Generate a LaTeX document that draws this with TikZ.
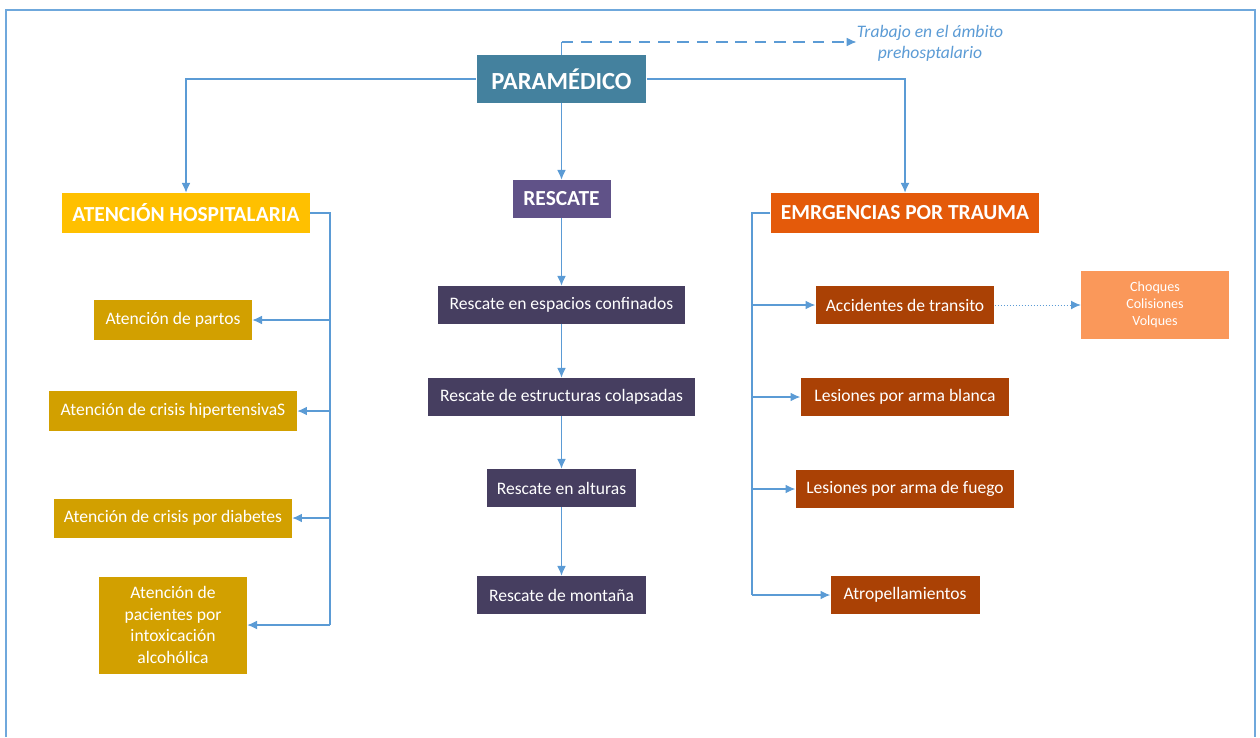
\documentclass[tikz,border=0pt]{standalone}
\usepackage{fontspec}
\setmainfont{Carlito}
\usepackage{tikz}
\usetikzlibrary{arrows.meta}

\definecolor{paraC}{RGB}{68,129,158}
\definecolor{hospC}{RGB}{255,192,0}
\definecolor{rescC}{RGB}{96,82,136}
\definecolor{trauC}{RGB}{228,90,10}
\definecolor{hospSub}{RGB}{210,160,0}
\definecolor{rescSub}{RGB}{70,62,96}
\definecolor{trauSub}{RGB}{170,65,5}
\definecolor{choqC}{RGB}{250,152,90}
\definecolor{lineC}{RGB}{91,155,213}
\definecolor{frameC}{RGB}{111,168,220}

\tikzset{
    box/.style={rectangle, text=white, inner sep=0pt, align=center},
    head/.style={box, font=\bfseries\fontsize{12.2}{14}\selectfont},
    sub/.style={box, font=\fontsize{10}{12.2}\selectfont},
    conn/.style={draw=lineC, line width=0.6pt},
    >={Latex[length=5.5pt,width=5pt]}}

\begin{document}
\begin{tikzpicture}[x=0.02cm, y=-0.02cm]
    \useasboundingbox (0,0) rectangle (1260,737);
    \draw[frameC, line width=0.9pt] (6,737) -- (6,10) -- (1255,10) -- (1255,737);

    % main nodes
    \node[box, fill=paraC, minimum width=3.4cm, minimum height=0.96cm, font=\bfseries\fontsize{14}{16}\selectfont] (para) at (561.5,79) {PARAMÉDICO};
    \node[head, fill=hospC, minimum width=4.96cm, minimum height=0.8cm] (hosp) at (186,213) {ATENCIÓN HOSPITALARIA};
    \node[head, fill=rescC, minimum width=1.96cm, minimum height=0.76cm] (resc) at (561.5,199) {RESCATE};
    \node[head, fill=trauC, minimum width=5.38cm, minimum height=0.8cm] (trau) at (905,213) {EMRGENCIAS POR TRAUMA};
    \node[box, text=lineC, font=\itshape\fontsize{10}{12}\selectfont] (note) at (930,43) {Trabajo en el ámbito\\prehosptalario};
    \coordinate (dtop) at (561.5,42);

    % atencion hospitalaria
    \node[sub, fill=hospSub, minimum width=3.16cm, minimum height=0.8cm] (h1) at (173,320) {Atención de partos};
    \node[sub, fill=hospSub, minimum width=4.96cm, minimum height=0.8cm] (h2) at (173,411) {Atención de crisis hipertensivaS};
    \node[sub, fill=hospSub, minimum width=4.76cm, minimum height=0.78cm] (h3) at (173,518) {Atención de crisis por diabetes};
    \node[sub, fill=hospSub, minimum width=2.96cm, minimum height=1.94cm] (h4) at (173,625) {Atención de\\pacientes por\\intoxicación\\alcohólica};
    \coordinate (hbot) at (330,625);

    % rescate
    \node[sub, fill=rescSub, minimum width=4.96cm, minimum height=0.76cm] (r1) at (561.5,305) {Rescate en espacios confinados};
    \node[sub, fill=rescSub, minimum width=5.36cm, minimum height=0.76cm] (r2) at (561.5,397) {Rescate de estructuras colapsadas};
    \node[sub, fill=rescSub, minimum width=2.98cm, minimum height=0.76cm] (r3) at (561.5,488) {Rescate en alturas};
    \node[sub, fill=rescSub, minimum width=3.38cm, minimum height=0.76cm] (r4) at (561.5,595) {Rescate de montaña};

    % trauma
    \node[sub, fill=trauSub, minimum width=3.58cm, minimum height=0.76cm] (t1) at (905,305) {Accidentes de transito};
    \node[sub, fill=trauSub, minimum width=4.18cm, minimum height=0.76cm] (t2) at (905,397) {Lesiones por arma blanca};
    \node[sub, fill=trauSub, minimum width=4.38cm, minimum height=0.76cm] (t3) at (905,489) {Lesiones por arma de fuego};
    \node[sub, fill=trauSub, minimum width=2.98cm, minimum height=0.76cm] (t4) at (905,595) {Atropellamientos};
    \node[box, fill=choqC, minimum width=2.96cm, minimum height=1.36cm, font=\fontsize{8}{9.6}\selectfont] (choq) at (1155,305) {Choques\\Colisiones\\Volques};
    \coordinate (tbot) at (752,595);

    % connectors
    \draw[conn] (para.north) -- (dtop);
    \draw[conn, dash pattern=on 6.5pt off 4.5pt, ->] (dtop) -- (note.west |- dtop);
    \draw[conn, ->] (para.west) -| (hosp.north);
    \draw[conn, ->] (para.south) -- (resc.north);
    \draw[conn, ->] (para.east) -| (trau.north);

    \draw[conn] (hosp.east) -| (hbot);
    \foreach \n in {h1,h2,h3,h4}
        \draw[conn, ->] (hbot |- \n) -- (\n.east);

    \draw[conn, ->] (resc.south) -- (r1.north);
    \draw[conn, ->] (r1.south) -- (r2.north);
    \draw[conn, ->] (r2.south) -- (r3.north);
    \draw[conn, ->] (r3.south) -- (r4.north);

    \draw[conn] (trau.west) -| (tbot);
    \foreach \n in {t1,t2,t3,t4}
        \draw[conn, ->] (tbot |- \n) -- (\n.west);
    \draw[conn, line width=0.45pt, dash pattern=on 0.8pt off 0.9pt, ->] (t1.east) -- (choq.west);

\end{tikzpicture}
\end{document}
